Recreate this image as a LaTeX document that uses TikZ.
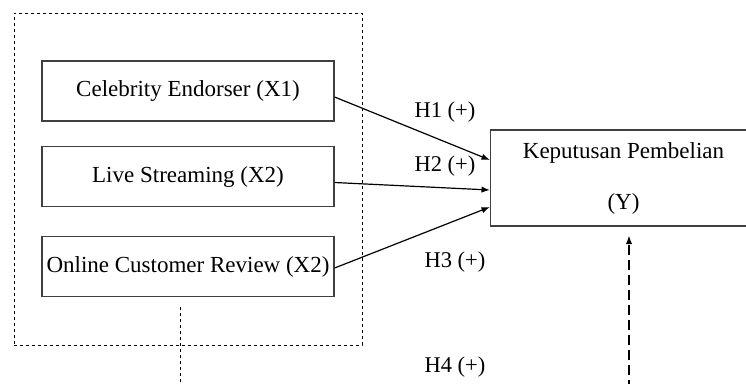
\documentclass[tikz,border=0pt]{standalone}
\usepackage{fontspec}
\setmainfont{Liberation Serif}
\usetikzlibrary{arrows.meta, positioning}

\begin{document}
\begin{tikzpicture}[x=1pt, y=-1pt, >=Latex, on grid,
        var/.style={rectangle, draw=black!75, line width=1.2pt, minimum width=292pt, minimum height=60pt, inner sep=0pt, font=\fontsize{23}{27}\selectfont},
        grpbox/.style={rectangle, draw, dashed, line width=0.8pt, minimum width=348pt, minimum height=332pt, inner sep=0pt},
        hyp/.style={font=\fontsize{22.5}{26}\selectfont, inner sep=0pt}]
      \useasboundingbox (0,0) rectangle (746,383);

      % Variables
      \node[grpbox] (grp) at (188,179) {};
      \node[var] (celeb) at (188,91) {Celebrity Endorser (X1)};
      \node[var, below=85.5pt of celeb] (live) {Live Streaming (X2)};
      \node[var, below=90pt of live] (review) {Online Customer Review (X2)};
      \node[rectangle, draw=black!75, line width=1.2pt, minimum width=266pt, minimum height=96pt,
            align=center, font=\fontsize{23}{27}\selectfont] (keputusan) at (623.5,178)
            {Keputusan Pembelian\\[24pt](Y)};

      % Hypothesis labels
      \node[hyp] (h1) at (445,112) {H1 (+)};
      \node[hyp] (h2) at (445,166) {H2 (+)};
      \node[hyp] (h3) at (455,262) {H3 (+)};
      \node[hyp] (h4) at (455,367) {H4 (+)};

      % Direct effects
      \draw[->, line width=1.2pt] ([yshift=-6pt]celeb.east) -- ([yshift=18pt]keputusan.west);
      \draw[->, line width=1.2pt] ([yshift=-6pt]live.east) -- ([yshift=-12pt]keputusan.west);
      \draw[->, line width=1.2pt] ([yshift=-1.5pt]review.east) -- ([yshift=-29pt]keputusan.west);

      % Simultaneous effect
      \coordinate (gtop) at (180,307);
      \coordinate (gbot) at (180,390);
      \coordinate (ybot) at (629,390);
      \draw[dashed, line width=0.8pt] (gtop) -- (gbot);
      \draw[->, line width=1.2pt, dash pattern=on 10pt off 5pt] (ybot) -- ([xshift=5.5pt, yshift=-9pt]keputusan.south);

\end{tikzpicture}
\end{document}
